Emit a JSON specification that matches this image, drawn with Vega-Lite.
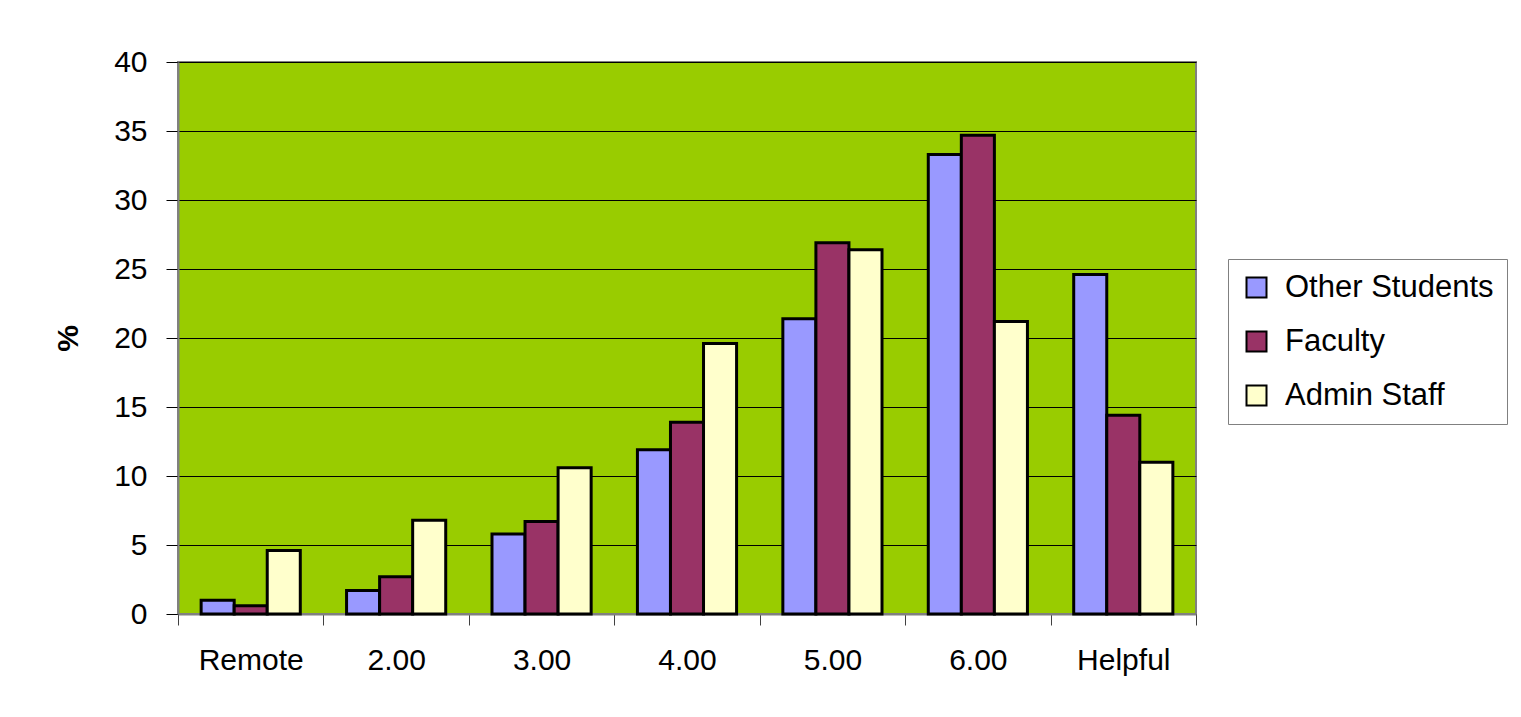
{
  "$schema": "https://vega.github.io/schema/vega-lite/v6.json",
  "width": 1018,
  "height": 552,
  "autosize": {"type": "none"},
  "padding": {"left": 178, "top": 62, "right": 325, "bottom": 103},
  "background": "white",
  "data": {
    "values": [
      {"cat": "Remote", "group": "Other Students", "value": 1.0},
      {"cat": "Remote", "group": "Faculty", "value": 0.6},
      {"cat": "Remote", "group": "Admin Staff", "value": 4.6},
      {"cat": "2.00", "group": "Other Students", "value": 1.7},
      {"cat": "2.00", "group": "Faculty", "value": 2.7},
      {"cat": "2.00", "group": "Admin Staff", "value": 6.8},
      {"cat": "3.00", "group": "Other Students", "value": 5.8},
      {"cat": "3.00", "group": "Faculty", "value": 6.7},
      {"cat": "3.00", "group": "Admin Staff", "value": 10.6},
      {"cat": "4.00", "group": "Other Students", "value": 11.9},
      {"cat": "4.00", "group": "Faculty", "value": 13.9},
      {"cat": "4.00", "group": "Admin Staff", "value": 19.6},
      {"cat": "5.00", "group": "Other Students", "value": 21.4},
      {"cat": "5.00", "group": "Faculty", "value": 26.9},
      {"cat": "5.00", "group": "Admin Staff", "value": 26.4},
      {"cat": "6.00", "group": "Other Students", "value": 33.3},
      {"cat": "6.00", "group": "Faculty", "value": 34.7},
      {"cat": "6.00", "group": "Admin Staff", "value": 21.2},
      {"cat": "Helpful", "group": "Other Students", "value": 24.6},
      {"cat": "Helpful", "group": "Faculty", "value": 14.4},
      {"cat": "Helpful", "group": "Admin Staff", "value": 11.0}
    ]
  },
  "mark": {"type": "bar", "stroke": "black", "strokeWidth": 3},
  "encoding": {
    "x": {
      "field": "cat",
      "type": "nominal",
      "sort": ["Remote", "2.00", "3.00", "4.00", "5.00", "6.00", "Helpful"],
      "scale": {"paddingInner": 0, "paddingOuter": 0},
      "axis": {
        "title": null,
        "labelAngle": 0,
        "tickBand": "extent",
        "tickSize": 11,
        "labelPadding": 20,
        "labelFontSize": 30,
        "labelColor": "black",
        "domainColor": "#808080",
        "domainWidth": 2,
        "tickColor": "#404040",
        "grid": false
      }
    },
    "xOffset": {
      "field": "group",
      "sort": ["Other Students", "Faculty", "Admin Staff"],
      "scale": {"paddingInner": 0, "paddingOuter": 0.7}
    },
    "y": {
      "field": "value",
      "type": "quantitative",
      "scale": {"domain": [0, 40], "nice": false},
      "axis": {
        "values": [0, 5, 10, 15, 20, 25, 30, 35, 40],
        "title": "%",
        "titleFontSize": 30,
        "titleFontWeight": "bold",
        "titleColor": "black",
        "titlePadding": 30,
        "grid": true,
        "gridColor": "black",
        "gridOpacity": 1,
        "gridWidth": 1.2,
        "tickSize": 12,
        "labelPadding": 19,
        "labelFontSize": 30,
        "labelColor": "black",
        "domainColor": "#808080",
        "domainWidth": 2,
        "tickColor": "black"
      }
    },
    "color": {
      "field": "group",
      "type": "nominal",
      "sort": ["Other Students", "Faculty", "Admin Staff"],
      "scale": {
        "domain": ["Other Students", "Faculty", "Admin Staff"],
        "range": ["#9999FF", "#993366", "#FFFFCC"]
      },
      "legend": {
        "title": null,
        "orient": "none",
        "legendX": 1050,
        "legendY": 197,
        "strokeColor": "#808080",
        "fillColor": "white",
        "padding": 13,
        "symbolType": "square",
        "symbolSize": 400,
        "symbolStrokeColor": "black",
        "symbolStrokeWidth": 2,
        "labelFontSize": 31,
        "labelColor": "black",
        "labelLimit": 400,
        "rowPadding": 22,
        "labelOffset": 13
      }
    }
  },
  "config": {
    "view": {"fill": "#99CC00", "stroke": "#808080", "strokeWidth": 2},
    "font": "Liberation Sans"
  }
}
